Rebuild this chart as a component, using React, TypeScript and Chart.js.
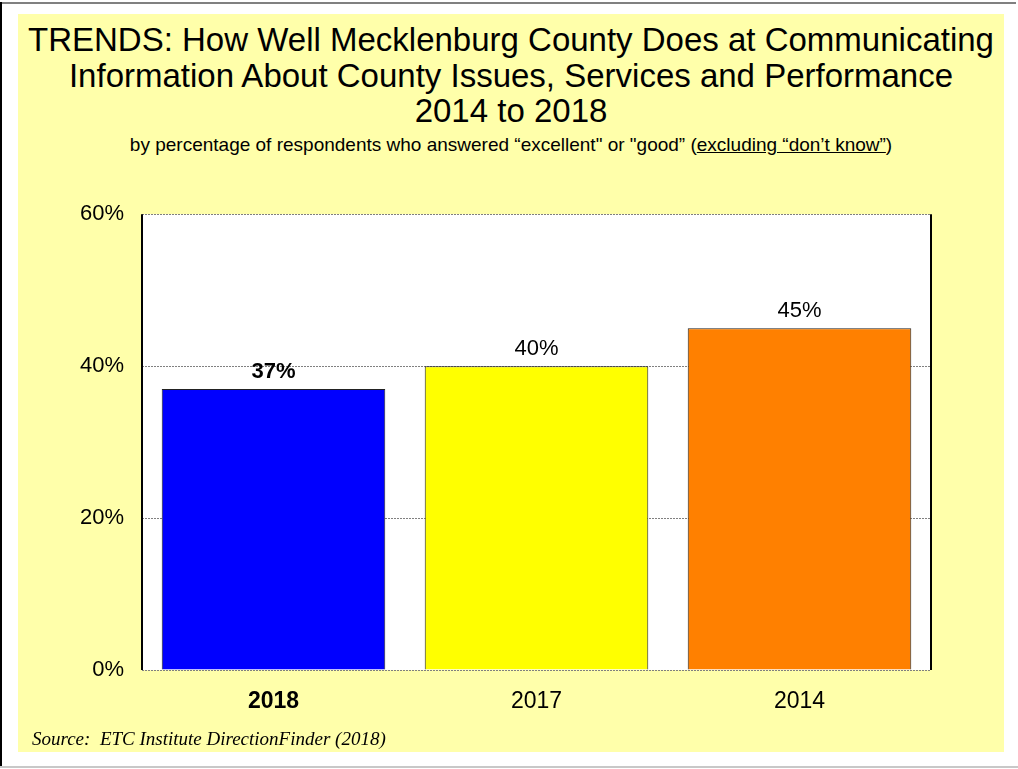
import React, { useEffect, useRef } from "react";
import { Chart, registerables } from "chart.js";

Chart.register(...registerables);

const categories = ["2018", "2017", "2014"];
const values = [37, 40, 45];
const barColors = ["#0000FF", "#FFFF00", "#FF8000"];
const yTicks = [0, 20, 40, 60];

const FONT = "'Liberation Sans', Arial, sans-serif";

export default function App() {
  const canvasRef = useRef<HTMLCanvasElement | null>(null);

  useEffect(() => {
    const canvas = canvasRef.current;
    if (!canvas) return;

    const plotFrame = {
      id: "plotFrame",
      beforeDraw(chart: any) {
        const { ctx, chartArea } = chart;
        ctx.save();
        ctx.fillStyle = "#FFFFFF";
        ctx.fillRect(chartArea.left, chartArea.top, chartArea.right - chartArea.left, chartArea.bottom - chartArea.top);
        ctx.restore();
      },
      afterDraw(chart: any) {
        const { ctx, chartArea } = chart;
        ctx.save();
        ctx.strokeStyle = "#000000";
        ctx.lineWidth = 2;
        ctx.beginPath();
        ctx.moveTo(chartArea.left, chartArea.top);
        ctx.lineTo(chartArea.left, chartArea.bottom);
        ctx.moveTo(chartArea.right, chartArea.top);
        ctx.lineTo(chartArea.right, chartArea.bottom);
        ctx.stroke();
        ctx.restore();
      },
    };

    const valueLabels = {
      id: "valueLabels",
      afterDatasetsDraw(chart: any) {
        const { ctx } = chart;
        const meta = chart.getDatasetMeta(0);
        ctx.save();
        ctx.fillStyle = "#000000";
        ctx.textAlign = "center";
        ctx.textBaseline = "alphabetic";
        meta.data.forEach((bar: any, i: number) => {
          ctx.font = `${i === 0 ? "bold " : ""}22px ${FONT}`;
          ctx.fillText(values[i] + "%", bar.x, bar.y - 11);
        });
        ctx.restore();
      },
    };

    const chart = new Chart(canvas, {
      type: "bar",
      data: {
        labels: categories,
        datasets: [
          {
            data: values,
            backgroundColor: barColors,
            borderColor: "#222222",
            borderWidth: 1,
            barPercentage: 0.85,
            categoryPercentage: 1,
          },
        ],
      },
      options: {
        animation: false,
        responsive: false,
        maintainAspectRatio: false,
        layout: { padding: { top: 17, right: 73, left: 0, bottom: 0 } },
        plugins: {
          legend: { display: false },
          title: { display: false },
          tooltip: { enabled: false },
        },
        scales: {
          x: {
            grid: { display: false },
            border: { display: false },
            ticks: {
              color: "#000000",
              padding: 10,
              font: (c: any) => ({ family: FONT, size: 23, weight: c.index === 0 ? "bold" : "normal" }),
            },
            afterFit(s: any) {
              s.height = 80;
            },
          },
          y: {
            min: 0,
            max: 60,
            afterBuildTicks(s: any) {
              s.ticks = yTicks.map((v) => ({ value: v }));
            },
            grid: {
              color: "#808080",
              lineWidth: 1,
              drawTicks: false,
            },
            border: { display: false, dash: [2, 1] },
            ticks: {
              color: "#000000",
              padding: 18,
              font: { family: FONT, size: 22 },
              callback: (v: any) => v + "%",
            },
            afterFit(s: any) {
              s.width = 124;
            },
          },
        },
      },
      plugins: [plotFrame, valueLabels],
    } as any);

    return () => chart.destroy();
  }, []);

  return (
    <div style={{ position: "absolute", left: 0, top: 0, width: 1018, height: 769, background: "#FFFFFF", overflow: "hidden" }}>
      <div style={{ position: "absolute", left: 0, top: 2, width: 1016, height: 2, background: "#808080" }} />
      <div style={{ position: "absolute", left: 0, top: 2, width: 2, height: 766, background: "#000000" }} />
      <div style={{ position: "absolute", left: 0, top: 766, width: 1018, height: 2, background: "#C8C8C8" }} />
      <div style={{ position: "absolute", left: 18, top: 14, width: 986, height: 738, background: "#FFFFAA" }} />
      <div
        style={{
          position: "absolute",
          left: 18,
          top: 22,
          width: 986,
          textAlign: "center",
          fontFamily: FONT,
          fontSize: 33,
          lineHeight: "35.5px",
          color: "#000000",
          whiteSpace: "nowrap",
        }}
      >
        <div>TRENDS: How Well Mecklenburg County Does at Communicating</div>
        <div>Information About County Issues, Services and Performance</div>
        <div>2014 to 2018</div>
      </div>
      <div
        style={{
          position: "absolute",
          left: 18,
          top: 134,
          width: 986,
          textAlign: "center",
          fontFamily: FONT,
          fontSize: 19,
          lineHeight: "22px",
          color: "#000000",
          whiteSpace: "nowrap",
        }}
      >
        by percentage of respondents who answered “excellent" or "good” (<span style={{ textDecoration: "underline" }}>excluding “don’t know”</span>)
      </div>
      <canvas ref={canvasRef} width={986} height={567} style={{ position: "absolute", left: 18, top: 183, width: 986, height: 567 }} />
      <div
        style={{
          position: "absolute",
          left: 32,
          top: 728,
          fontFamily: "'Liberation Serif', 'Times New Roman', serif",
          fontStyle: "italic",
          fontSize: 19,
          lineHeight: "22px",
          color: "#000000",
          whiteSpace: "pre",
        }}
      >
        {"Source:  ETC Institute DirectionFinder (2018)"}
      </div>
    </div>
  );
}
